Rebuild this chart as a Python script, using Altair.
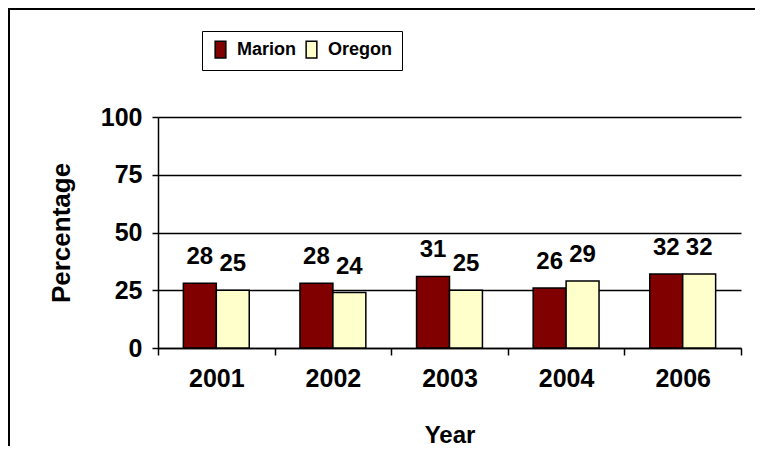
import altair as alt
import pandas as pd

years = ["2001", "2002", "2003", "2004", "2006"]
marion = [28, 28, 31, 26, 32]
oregon = [25, 24, 25, 29, 32]
series = ["Marion", "Oregon"]
colors = ["#800000", "#FFFFCC"]

rows = []
for i, yr in enumerate(years):
    rows.append({"Year": yr, "Area": "Marion", "Value": marion[i]})
    rows.append({"Year": yr, "Area": "Oregon", "Value": oregon[i]})
df = pd.DataFrame(rows)

FONT = "Liberation Sans"

x = alt.X(
    "Year:N", sort=years,
    scale=alt.Scale(paddingInner=0, paddingOuter=0),
    axis=alt.Axis(
        title="Year", labelAngle=0, tickBand="extent", grid=False,
        domainColor="black", domainWidth=1.5, tickColor="black", tickWidth=1.5,
        tickSize=7, labelFont=FONT, labelFontSize=25, labelFontWeight="bold",
        labelColor="black", labelPadding=11, titleFont=FONT, titleFontSize=24,
        titleFontWeight="bold", titleColor="black", titlePadding=32,
    ),
)
xo = alt.XOffset("Area:N", sort=series,
                 scale=alt.Scale(paddingInner=0, paddingOuter=0.77))
y = alt.Y(
    "Value:Q",
    scale=alt.Scale(domain=[0, 100], nice=False),
    axis=alt.Axis(
        title="Percentage", values=[0, 25, 50, 75, 100], grid=True,
        gridColor="black", gridWidth=1.5, gridOpacity=1,
        domainColor="black", domainWidth=1.5, tickColor="black", tickWidth=1.5,
        tickSize=6, labelFont=FONT, labelFontSize=25, labelFontWeight="bold",
        labelColor="black", labelPadding=10, titleFont=FONT, titleFontSize=26,
        titleFontWeight="bold", titleColor="black", titlePadding=26,
    ),
)
fill = alt.Fill(
    "Area:N", sort=series,
    scale=alt.Scale(domain=series, range=colors),
    legend=alt.Legend(
        title=None, orient="none", direction="horizontal", legendX=44, legendY=-86,
        strokeColor="black", padding=9, fillColor="white",
        symbolType="M-0.64,-1H0.64V1H-0.64Z", symbolSize=280,
        symbolStrokeColor="black", symbolStrokeWidth=1.5, symbolOpacity=1,
        labelFont=FONT, labelFontSize=18, labelFontWeight="bold", labelColor="black",
        columnPadding=5, labelOffset=7,
    ),
)

bars = alt.Chart(df).mark_bar(stroke="black", strokeWidth=1.5).encode(
    x=x, xOffset=xo, y=y, fill=fill
)
labels = alt.Chart(df).mark_text(
    font=FONT, fontSize=24, fontWeight="bold", color="black",
    baseline="alphabetic", dy=-19
).encode(x=x, xOffset=xo, y=y, text="Value:Q")

frame_df = pd.DataFrame({"k": [0]})
frame = alt.Chart(frame_df).mark_rect(
    fill="transparent", stroke="black", strokeWidth=2
).encode(
    x=alt.value(-149), x2=alt.value(640), y=alt.value(-108), y2=alt.value(380)
)

chart = alt.layer(bars, labels, frame).properties(
    width=583, height=231,
    autosize=alt.AutoSizeParams(type="none"),
    padding={"left": 150, "top": 109, "right": 14, "bottom": 98},
).configure_view(stroke=None)

chart.save("out.html", embed_options={"renderer": "svg", "actions": False})
